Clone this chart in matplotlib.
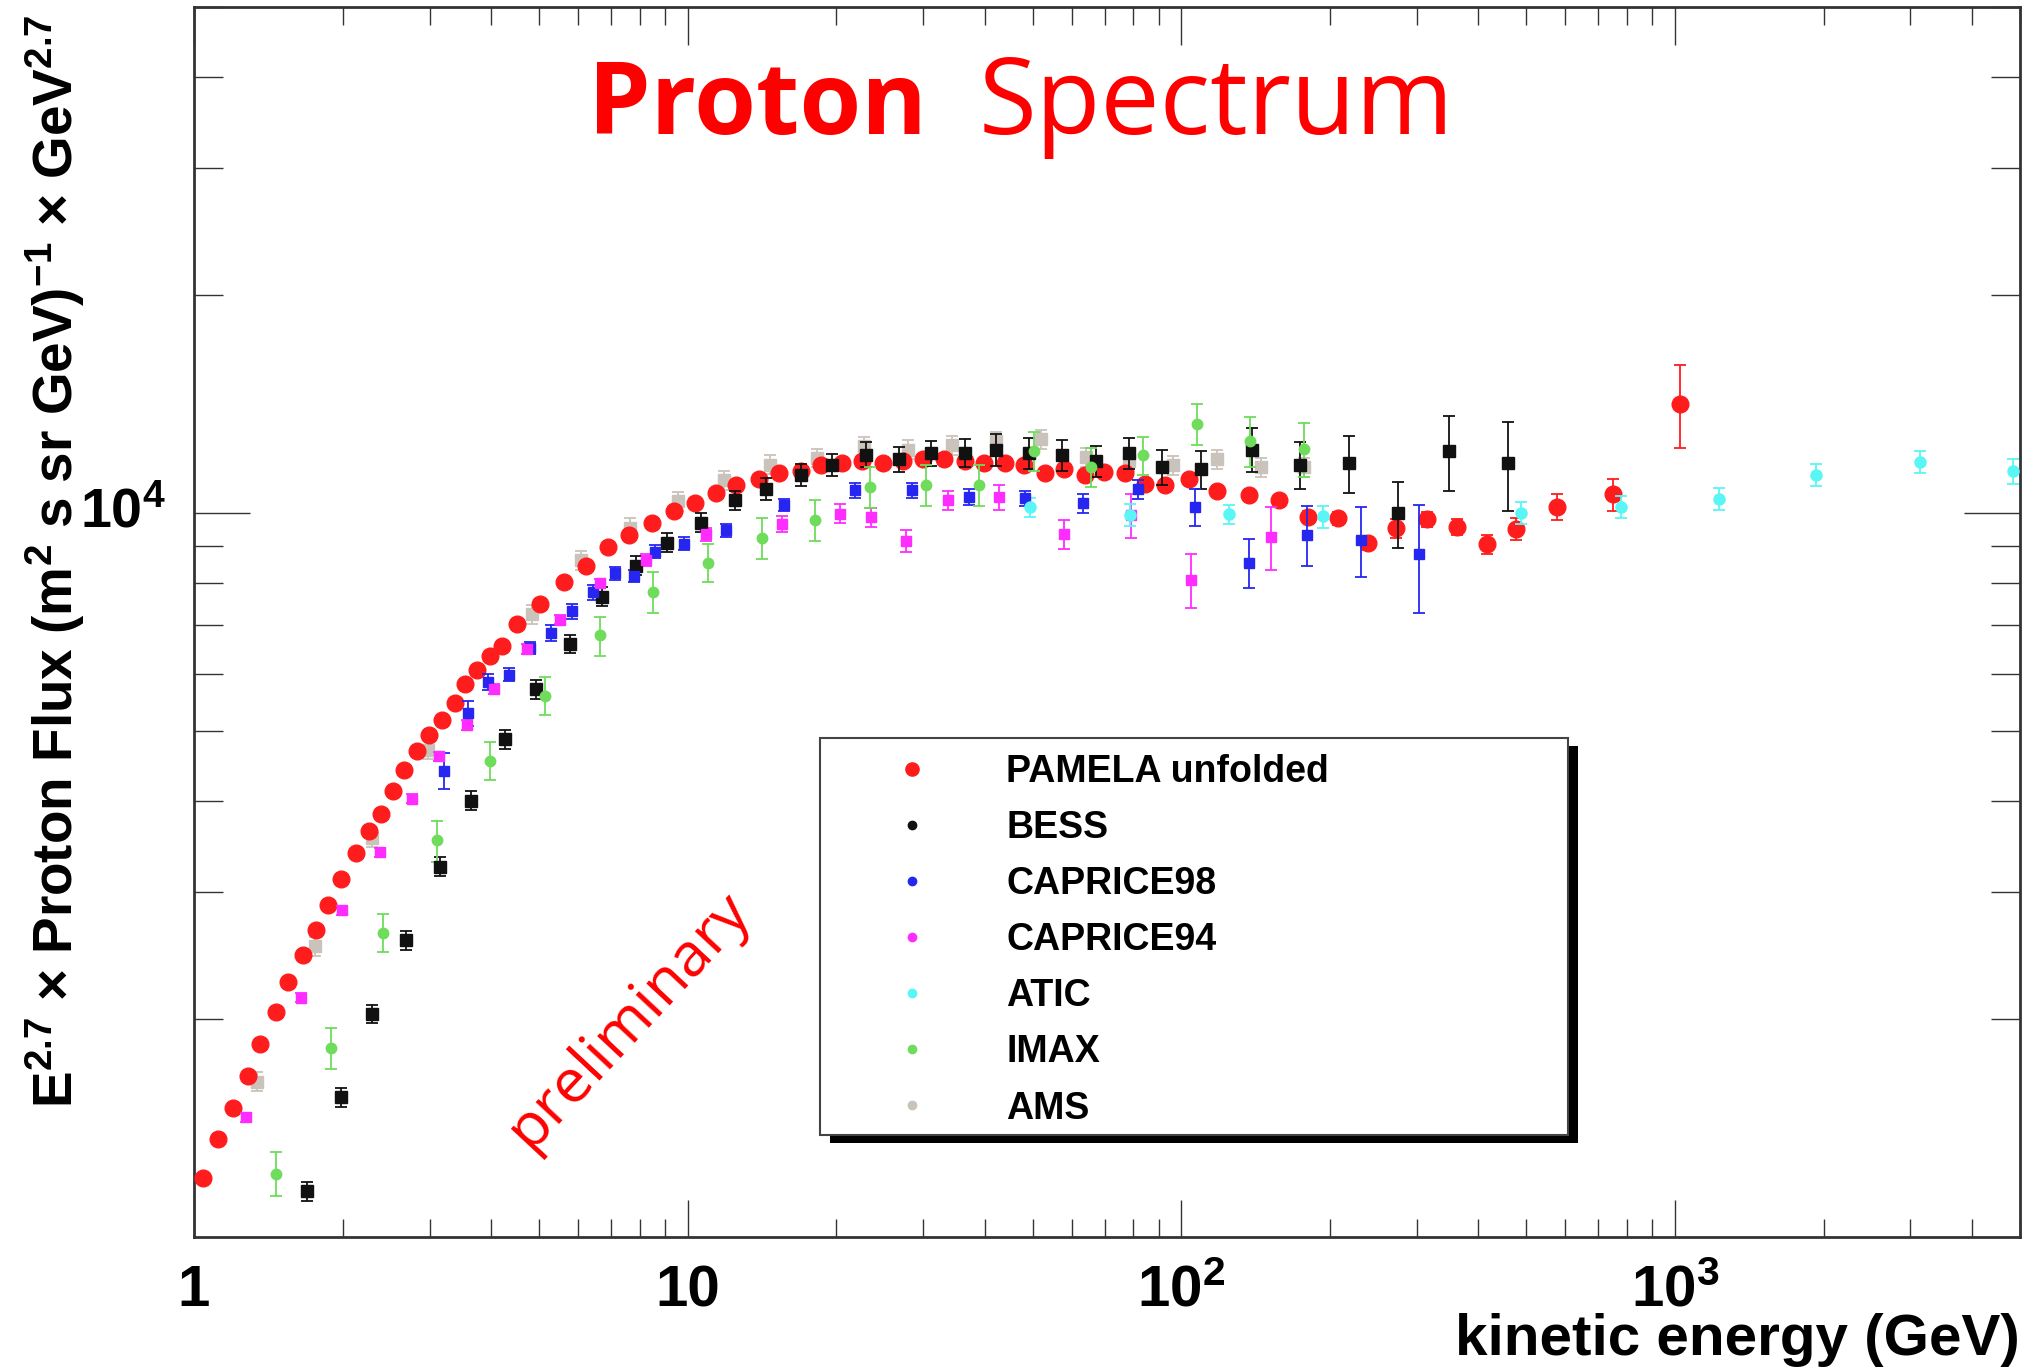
import numpy as np
import matplotlib
matplotlib.use('Agg')
import matplotlib.pyplot as plt
import matplotlib.transforms as mtransforms
from matplotlib.lines import Line2D
from matplotlib.patches import Rectangle
from matplotlib.ticker import FixedLocator, NullFormatter, LogLocator

plt.rcParams['font.family'] = ['Liberation Sans', 'DejaVu Sans']
plt.rcParams['font.weight'] = 'bold'
plt.rcParams['mathtext.fontset'] = 'custom'
plt.rcParams['mathtext.rm'] = 'Liberation Sans:bold'
plt.rcParams['mathtext.bf'] = 'Liberation Sans:bold'
plt.rcParams['mathtext.it'] = 'Liberation Sans:bold'
plt.rcParams['mathtext.sf'] = 'Liberation Sans'
plt.rcParams['mathtext.default'] = 'bf'

# ---------------- data ----------------
pamela_E = [1.044, 1.12, 1.198, 1.285, 1.362, 1.463, 1.55, 1.66, 1.764, 1.87, 1.982, 2.125,
            2.261, 2.391, 2.532, 2.661, 2.824, 2.995, 3.187, 3.376, 3.537, 3.746, 3.973, 4.198,
            4.522, 5.033, 5.61, 6.237, 6.912, 7.606, 8.472, 9.37, 10.33, 11.39, 12.55, 13.94,
            15.3, 16.93, 18.65, 20.57, 22.58, 24.85, 27.28, 29.95, 33.13, 36.54, 39.93, 44.03,
            48.11, 52.98, 57.97, 63.83, 69.85, 77.0, 84.44, 92.8, 103.5, 118.4, 137.3, 157.4,
            181.0, 208.2, 238.4, 272.0, 315.2, 361.9, 415.4, 475.7, 575.9, 747.6, 1023]
pamela_F = [1207, 1365, 1509, 1669, 1848, 2046, 2252, 2455, 2651, 2876, 3121, 3395,
            3638, 3844, 4130, 4421, 4684, 4928, 5182, 5467, 5807, 6070, 6350, 6555,
            7031, 7489, 8017, 8455, 8986, 9326, 9678, 10063, 10332, 10664, 10926, 11148,
            11360, 11447, 11666, 11714, 11787, 11725, 11787, 11890, 11855, 11817, 11727, 11727,
            11641, 11360, 11484, 11268, 11396, 11360, 10965, 10926, 11148, 10722, 10588, 10411,
            9874, 9833, 9084, 9527, 9802, 9576, 9056, 9515, 10202, 10610, 14155]
pamela_rel = [0.015] * 60 + [0.02, 0.02, 0.02, 0.03, 0.025, 0.025, 0.03, 0.035, 0.04, 0.05, 0.13]

bess_E = [1.691, 1.982, 2.296, 2.686, 3.148, 3.648, 4.267, 4.94, 5.79, 6.72, 7.85, 9.10, 10.66,
          12.45, 14.43, 16.93, 19.63, 23.0, 26.86, 31.14, 36.54, 42.16, 49.23, 57.34, 67.2,
          78.5, 91.4, 109.6, 139.0, 173.9, 218.9, 274.9, 348.4, 459]
bess_F = [1156, 1559, 2033, 2568, 3248, 4004, 4873, 5713, 6594, 7665, 8455, 9102, 9698,
          10411, 10800, 11279, 11641, 12040, 11855, 12103, 12103, 12235, 12103, 12014, 11787,
          12103, 11570, 11484, 12235, 11666, 11714, 10000, 12170, 11705]
bess_rel = [0.03, 0.03, 0.03, 0.03, 0.03, 0.03, 0.03, 0.03, 0.03, 0.03, 0.03, 0.03, 0.03,
            0.03, 0.035, 0.035, 0.035, 0.04, 0.04, 0.04, 0.045, 0.05, 0.05, 0.05, 0.05,
            0.05, 0.055, 0.06, 0.07, 0.075, 0.09, 0.105, 0.12, 0.14]

c98_E = [3.207, 3.584, 3.941, 4.347, 4.79, 5.298, 5.842, 6.433, 7.115, 7.787, 8.575, 9.829,
         11.98, 15.66, 21.78, 28.5, 37.11, 48.27, 63.33, 81.56, 106.6, 137.3, 179.7, 231.7, 303.4]
c98_F = [4406, 5293, 5843, 5981, 6506, 6832, 7313, 7771, 8251, 8191, 8846, 9073,
         9467, 10256, 10745, 10745, 10520, 10476, 10311, 10780, 10192, 8543, 9326, 9171, 8774]
c98_rel = [0.058, 0.04, 0.025, 0.02, 0.02, 0.025, 0.025, 0.025, 0.02, 0.02, 0.02, 0.02,
           0.02, 0.02, 0.025, 0.025, 0.025, 0.025, 0.03, 0.03, 0.06, 0.077, 0.095, 0.11, 0.17]

c94_E = [1.274, 1.644, 1.996, 2.38, 2.766, 3.136, 3.575, 4.062, 4.721, 5.508, 6.636, 8.25,
         10.88, 15.55, 20.38, 23.54, 27.67, 33.64, 42.68, 57.97, 79.1, 104.6, 151.9]
c94_F = [1463, 2140, 2825, 3400, 4032, 4613, 5099, 5711, 6493, 7124, 7995, 8609,
         9348, 9649, 9977, 9874, 9152, 10411, 10520, 9348, 9937, 8085, 9277]
c94_rel = [0.015, 0.015, 0.015, 0.015, 0.015, 0.015, 0.015, 0.015, 0.015, 0.015, 0.015, 0.02,
           0.02, 0.025, 0.03, 0.03, 0.035, 0.03, 0.04, 0.045, 0.07, 0.085, 0.10]

atic_E = [49.4, 78.7, 124.7, 193.9, 486.9, 776.7, 1231, 1929, 3130, 4833]
atic_F = [10192, 9937, 9959, 9890, 10009, 10202, 10464, 11279, 11766, 11423]
atic_rel = [0.03, 0.035, 0.03, 0.035, 0.035, 0.035, 0.035, 0.035, 0.035, 0.04]

imax_E = [1.463, 1.891, 2.41, 3.108, 3.973, 5.142, 6.643, 8.506, 10.99, 14.17, 18.14, 23.43,
          30.33, 39.0, 50.4, 65.67, 83.5, 107.6, 137.7, 177.4]
imax_F = [1223, 1826, 2632, 3529, 4550, 5596, 6774, 7771, 8543, 9230, 9772, 10859,
          10926, 10926, 12195, 11570, 12014, 13286, 12562, 12274]
imax_rel = [0.07, 0.065, 0.06, 0.065, 0.06, 0.06, 0.062, 0.065, 0.06, 0.065, 0.065, 0.065,
            0.065, 0.065, 0.062, 0.062, 0.06, 0.065, 0.08, 0.085]

ams_E = [1.339, 1.758, 2.29, 2.972, 4.849, 6.093, 7.631, 9.559, 11.83, 14.66, 18.31, 22.75,
         27.92, 34.35, 42.16, 52.0, 64.13, 78.5, 96.3, 118.4, 145, 177.4]
ams_F = [1639, 2522, 3561, 4711, 7254, 8609, 9545, 10387, 11092, 11666, 11915, 12364,
         12235, 12401, 12562, 12655, 11940, 11787, 11641, 11855, 11570, 11570]
ams_rel = [0.03] * 22

labels = ['PAMELA unfolded', 'BESS', 'CAPRICE98', 'CAPRICE94', 'ATIC', 'IMAX', 'AMS']
colors = ['#ff1c1c', '#111111', '#2626f0', '#ff2cff', '#5af6f6', '#6fdc5c', '#cac3bb']

x_ticks = [1, 10, 100, 1000]
x_ticklabels = ['1', '10', '$10^{2}$', '$10^{3}$']
y_ticks = [1e4]
y_ticklabels = ['$10^{4}$']

# ---------------- figure ----------------
fig = plt.figure(figsize=(20.42, 13.68), dpi=100)
ax = fig.add_axes([0.0950, 0.0958, 0.8942, 0.8991])
ax.set_xscale('log')
ax.set_yscale('log')
ax.set_xlim(1, 5000)
ax.set_ylim(1000, 50000)

series = [
    (ams_E, ams_F, ams_rel, colors[6], 's', 8.0, 2),
    (pamela_E, pamela_F, pamela_rel, colors[0], 'o', 12.0, 3),
    (bess_E, bess_F, bess_rel, colors[1], 's', 8.0, 4),
    (c98_E, c98_F, c98_rel, colors[2], 's', 7.5, 4),
    (c94_E, c94_F, c94_rel, colors[3], 's', 7.5, 4),
    (atic_E, atic_F, atic_rel, colors[4], 'o', 8.0, 4),
    (imax_E, imax_F, imax_rel, colors[5], 'o', 7.5, 4),
]
for E, F, rel, c, m, ms, z in series:
    F = np.array(F, dtype=float)
    err = np.array(rel) * F
    ax.errorbar(E, F, yerr=err, fmt=m, ms=ms, color=c, ecolor=c, mec=c,
                elinewidth=1.3, capsize=4, capthick=1.3, zorder=z)

# ticks
ax.xaxis.set_major_locator(FixedLocator(x_ticks))
ax.xaxis.set_minor_locator(LogLocator(base=10, subs=range(2, 10)))
ax.xaxis.set_minor_formatter(NullFormatter())
ax.set_xticklabels(x_ticklabels)
ax.yaxis.set_major_locator(FixedLocator(y_ticks))
ax.yaxis.set_minor_locator(LogLocator(base=10, subs=range(2, 10)))
ax.yaxis.set_minor_formatter(NullFormatter())
ax.set_yticklabels(y_ticklabels)

ax.tick_params(which='both', direction='in', top=True, right=True, color='#333333', width=1.0)
ax.tick_params(axis='x', which='major', length=27, labelsize=42, pad=50)
ax.tick_params(axis='x', which='minor', length=13)
ax.tick_params(axis='y', which='major', length=40, labelsize=40, pad=20)
ax.tick_params(axis='y', which='minor', length=21)
for lab in ax.get_xticklabels():
    lab.set_va('baseline')
for lab in ax.get_yticklabels():
    lab.set_va('center')
for sp in ax.spines.values():
    sp.set_linewidth(2.0)
    sp.set_color('#333333')

# axis labels
ax.text(1.0, -0.0960, 'kinetic energy (GeV)', transform=ax.transAxes, ha='right',
        va='baseline', fontsize=42, fontweight='bold')
ax.text(-0.076, 0.549,
        r'$E^{2.7}$ $\mathsf{\times}$ Proton Flux (m$^{2}$ s sr GeV)$^{-1}$ $\mathsf{\times}$ GeV$^{2.7}$',
        transform=ax.transAxes, rotation=90, ha='center', va='center', fontsize=39.5,
        fontweight='bold')

# title
fig.text(927 / 2042, 1 - 134 / 1368, 'Proton', ha='right', va='baseline', color='#ff0000',
         fontsize=72, fontweight='bold', family=['Open Sans', 'DejaVu Sans'])
fig.text(979 / 2042, 1 - 134 / 1368, 'Spectrum', ha='left', va='baseline', color='#ff0000',
         fontsize=76, fontweight='normal', family=['Open Sans', 'DejaVu Sans'])

# preliminary
ax.text(0.2386, 0.1764, 'preliminary', transform=ax.transAxes, rotation=47, ha='center',
        va='center', color='#ff0000', fontsize=44, fontweight='normal',
        family=['Open Sans', 'DejaVu Sans'], rotation_mode='anchor')

# legend box with shadow
bx, by, bw, bh = 0.3426, 0.0829, 0.41, 0.3228
ax.add_patch(Rectangle((bx + 0.0055, by - 0.0065), bw, bh, transform=ax.transAxes,
                       facecolor='black', edgecolor='black', lw=0, zorder=8))
ax.add_patch(Rectangle((bx, by), bw, bh, transform=ax.transAxes, facecolor='white',
                       edgecolor='#444444', lw=1.5, zorder=9))
handles = [Line2D([], [], ls='', marker='o', color=colors[0], ms=9.5)]
handles += [Line2D([], [], ls='', marker='o', color=c, ms=6) for c in colors[1:]]
leg = ax.legend(handles, labels, loc='upper left', bbox_to_anchor=(0.3831, 0.3925),
                frameon=False, handlelength=1.0, handletextpad=2.0,
                labelspacing=0.535, borderpad=0, borderaxespad=0,
                prop={'family': ['Liberation Sans'], 'weight': 'bold', 'size': 27})
leg.set_zorder(10)

fig.savefig('out.png', dpi=100)
